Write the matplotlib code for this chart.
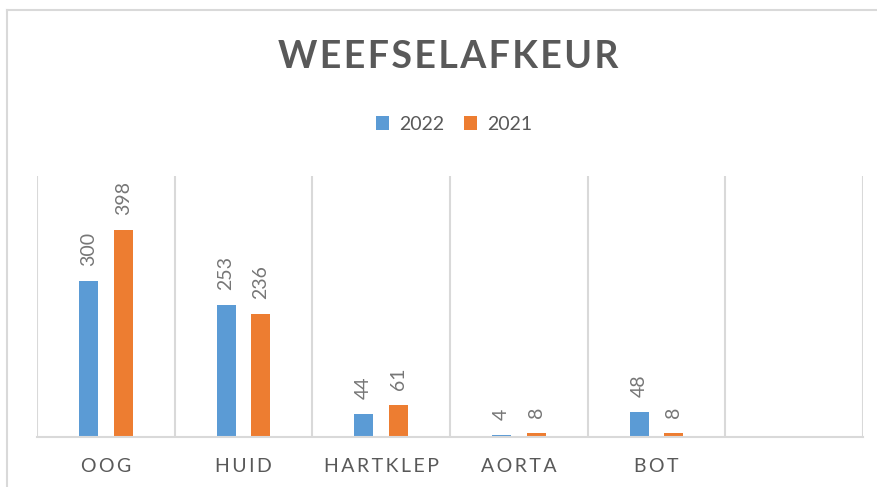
import numpy as np
import matplotlib
matplotlib.use("Agg")
import matplotlib.pyplot as plt
from matplotlib.lines import Line2D

plt.rcParams['font.family'] = ['Lato', 'DejaVu Sans']

# Data
categories = ["OOG", "HUID", "HARTKLEP", "AORTA", "BOT", ""]
vals_2022 = [300, 253, 44, 4, 48, np.nan]
vals_2021 = [398, 236, 61, 8, 8, np.nan]
series = [("2022", vals_2022, "#5B9BD5"), ("2021", vals_2021, "#ED7D31")]

txt = "#595959"
grid = "#D9D9D9"

def spaced(s, sep="\u2009"):
    return sep.join(s)

W, H = 878, 487
fig = plt.figure(figsize=(W / 100, H / 100), dpi=100)

# outer chart frame (cropped on right and bottom)
fig.add_artist(Line2D([7 / W, 1], [1 - 10 / H, 1 - 10 / H], color=grid, lw=1.5))
fig.add_artist(Line2D([7 / W, 7 / W], [0, 1 - 10 / H], color=grid, lw=1.5))

ax = fig.add_axes([37 / W, 50 / H, (863 - 37) / W, (437 - 176) / H])
x = np.arange(len(categories))
bw = 0.138
off = 0.127
for i, (name, vals, col) in enumerate(series):
    pos = x + (off if i else -off)
    ax.bar(pos, vals, width=bw, color=col, label=name)
    for p, v in zip(pos, vals):
        if np.isnan(v):
            continue
        ax.annotate(str(v), (p, v), xytext=(0, 11), textcoords="offset points",
                    rotation=90, ha="center", va="bottom",
                    fontsize=14, color="#767676")

ax.set_xlim(-0.5, len(categories) - 0.5)
ax.set_ylim(0, 502)
ax.set_yticks([])
ax.set_xticks(x)
ax.set_xticklabels([spaced(c) for c in categories], fontsize=14, color=txt)
ax.tick_params(axis="x", length=0, pad=15)
ax.set_xticks(np.arange(-0.5, len(categories)), minor=True)
ax.tick_params(axis="x", which="minor", length=0)
ax.grid(True, which="minor", axis="x", color=grid, lw=1.5)
for s in ["top", "left", "right"]:
    ax.spines[s].set_visible(False)
ax.spines["bottom"].set_color(grid)
ax.spines["bottom"].set_linewidth(1.5)

fig.text(448 / W, 1 - 57 / H, spaced("WEEFSELAFKEUR", "\u200a"), ha="center", va="center",
         fontsize=27, fontweight="bold", color=txt)

fig.legend(loc="center", bbox_to_anchor=(454 / W, 1 - 124 / H), ncol=2,
           frameon=False, fontsize=14, handlelength=0.7, handleheight=0.7,
           columnspacing=1.0, handletextpad=0.5, labelcolor=txt)

fig.savefig("out.png", dpi=100)
